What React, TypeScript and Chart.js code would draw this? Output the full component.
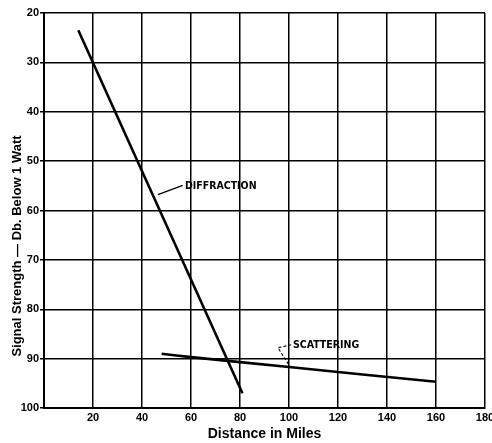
import React, { useEffect, useRef } from "react";
import { Chart, registerables } from "chart.js";

Chart.register(...registerables);

const diffraction = [
  { x: 14, y: 23.5 },
  { x: 81, y: 97 },
];
const scattering = [
  { x: 48, y: 89.0 },
  { x: 60, y: 89.7 },
  { x: 100, y: 91.7 },
  { x: 160, y: 94.7 },
];
const xTicks = [0, 20, 40, 60, 80, 100, 120, 140, 160, 180];
const yTicks = [20, 30, 40, 50, 60, 70, 80, 90, 100];
const xTitle = "Distance in Miles";
const yTitle = "Signal Strength \u2014 Db. Below 1 Watt";

const diffractionLabel = { text: "DIFFRACTION", at: [57.5, 55.0] };
const diffractionLeader = [
  [46.5, 56.8],
  [56.6, 54.9],
];
const scatteringLabel = { text: "SCATTERING", at: [101.6, 87.2] };
const scatteringLeader = [
  [100.9, 87.2],
  [95.5, 87.8],
  [100.4, 91.6],
];

const LABEL_FONT = 'bold 10.5px "Liberation Sans Narrow", "DejaVu Sans Condensed", "Liberation Sans", sans-serif';
const TICK_FAMILY = '"Liberation Sans", Arial, sans-serif';

const annotationPlugin = {
  id: "annotations",
  afterDatasetsDraw(chart: any) {
    const { ctx, scales } = chart;
    const xs = scales.x;
    const ys = scales.y;
    const px = (p: number[]) => [xs.getPixelForValue(p[0]), ys.getPixelForValue(p[1])];
    ctx.save();
    ctx.strokeStyle = "#000";
    ctx.fillStyle = "#000";
    ctx.lineWidth = 1.3;
    ctx.setLineDash([]);
    ctx.beginPath();
    diffractionLeader.forEach((p, i) => {
      const [a, b] = px(p);
      if (i === 0) ctx.moveTo(a, b);
      else ctx.lineTo(a, b);
    });
    ctx.stroke();
    ctx.lineWidth = 1.1;
    ctx.setLineDash([3, 2]);
    ctx.beginPath();
    scatteringLeader.forEach((p, i) => {
      const [a, b] = px(p);
      if (i === 0) ctx.moveTo(a, b);
      else ctx.lineTo(a, b);
    });
    ctx.stroke();
    ctx.setLineDash([]);
    ctx.font = LABEL_FONT;
    ctx.textAlign = "left";
    ctx.textBaseline = "middle";
    const [dx, dy] = px(diffractionLabel.at);
    ctx.fillText(diffractionLabel.text, dx, dy);
    const [sx, sy] = px(scatteringLabel.at);
    ctx.fillText(scatteringLabel.text, sx, sy);
    ctx.save();
    ctx.translate(17, 246);
    ctx.rotate(-Math.PI / 2);
    ctx.textAlign = "center";
    ctx.textBaseline = "middle";
    ctx.font = `bold 13px ${TICK_FAMILY}`;
    ctx.fillText(yTitle, 0, 0);
    ctx.restore();
    ctx.restore();
  },
};

export default function App() {
  const ref = useRef<HTMLCanvasElement | null>(null);
  useEffect(() => {
    if (!ref.current) return;
    const chart = new Chart(ref.current, {
      type: "line",
      data: {
        datasets: [
          {
            label: "Diffraction",
            data: diffraction,
            borderColor: "#000",
            borderWidth: 2.6,
            pointRadius: 0,
            tension: 0,
          },
          {
            label: "Scattering",
            data: scattering,
            borderColor: "#000",
            borderWidth: 2.6,
            pointRadius: 0,
            tension: 0.2,
          },
        ],
      },
      options: {
        responsive: false,
        animation: false,
        layout: { padding: { top: 13, right: 0, left: 0, bottom: 0 } },
        plugins: {
          legend: { display: false },
          tooltip: { enabled: false },
        },
        scales: {
          x: {
            type: "linear",
            min: 0,
            max: 180,
            afterBuildTicks: (s: any) => {
              s.ticks = xTicks.map((v) => ({ value: v }));
            },
            ticks: {
              callback: (v: any) => (v === 0 ? "" : String(v)),
              color: "#000",
              font: { family: TICK_FAMILY, weight: "bold", size: 11 },
              padding: 3,
              maxRotation: 0,
              autoSkip: false,
            },
            grid: { color: "#000", lineWidth: 1.5, drawTicks: false },
            border: { color: "#000", width: 2 },
            title: {
              display: true,
              text: xTitle,
              color: "#000",
              font: { family: TICK_FAMILY, weight: "bold", size: 14 },
              padding: { top: 3, bottom: 0 },
            },
            afterFit: (s: any) => {
              s.height = 35;
              s.paddingRight = 7;
            },
          },
          y: {
            type: "linear",
            reverse: true,
            min: 20,
            max: 100,
            afterBuildTicks: (s: any) => {
              s.ticks = yTicks.map((v) => ({ value: v }));
            },
            ticks: {
              color: "#000",
              font: { family: TICK_FAMILY, weight: "bold", size: 11 },
              padding: 1,
              autoSkip: false,
            },
            grid: { color: "#000", lineWidth: 1.5, tickLength: 4 },
            border: { color: "#000", width: 2 },
            afterFit: (s: any) => {
              s.width = 44;
            },
          },
        },
      },
      plugins: [annotationPlugin],
    });
    return () => chart.destroy();
  }, []);
  return (
    <div style={{ position: "fixed", left: 0, top: 0, width: 492, height: 443, background: "#fff" }}>
      <canvas ref={ref} width={492} height={443} />
    </div>
  );
}
